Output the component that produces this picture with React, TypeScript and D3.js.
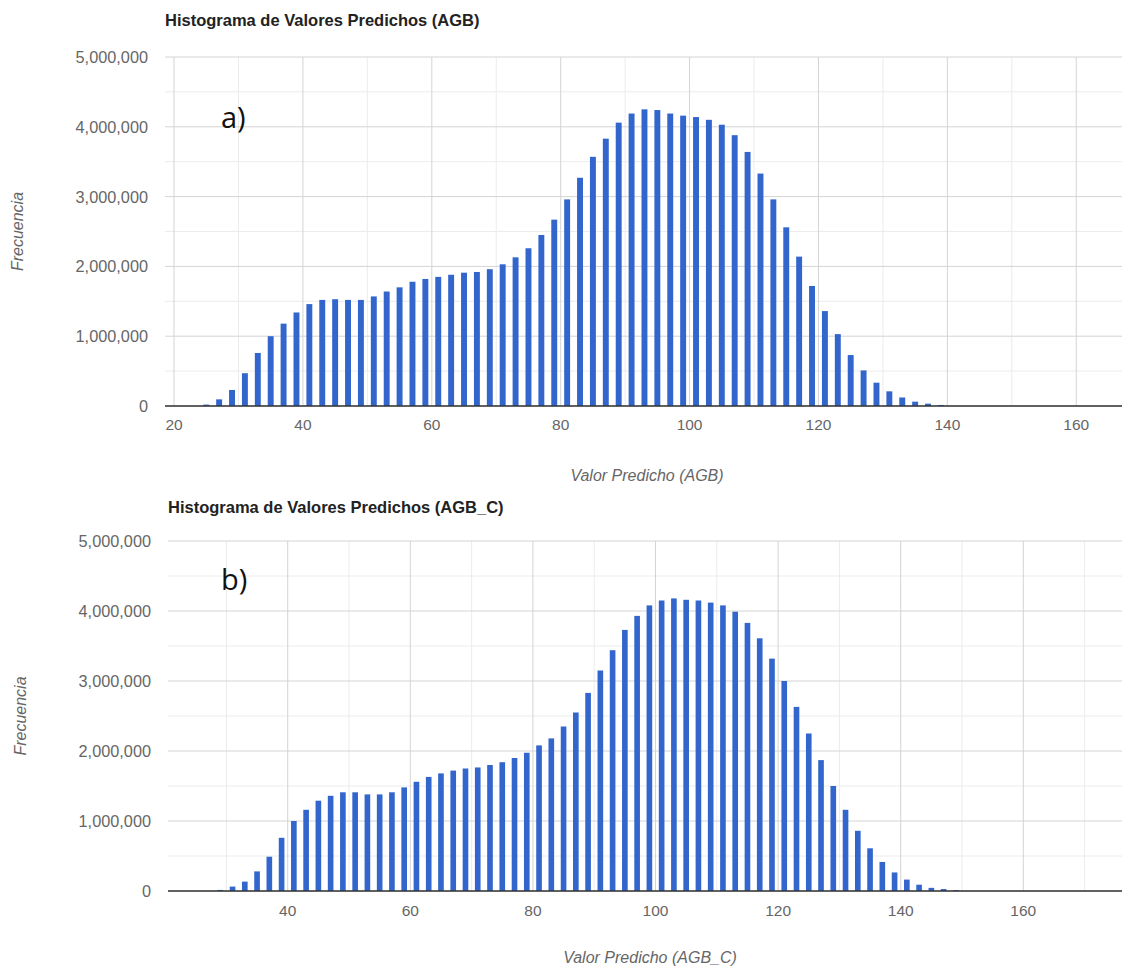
import React from "react";
import * as d3 from "d3";

// Bin centres (bins are 2 units wide) and pixel counts for each predicted-value histogram
const binsAGB = [
  25, 27, 29, 31, 33, 35, 37, 39, 41, 43, 45, 47, 49, 51, 53, 55, 57, 59, 61, 63,
  65, 67, 69, 71, 73, 75, 77, 79, 81, 83, 85, 87, 89, 91, 93, 95, 97, 99, 101, 103,
  105, 107, 109, 111, 113, 115, 117, 119, 121, 123, 125, 127, 129, 131, 133, 135, 137, 139,
];
const countsAGB = [
  20000, 95000, 230000, 470000, 760000, 1000000, 1180000, 1340000, 1460000, 1520000,
  1530000, 1520000, 1520000, 1570000, 1640000, 1700000, 1780000, 1820000, 1850000, 1880000,
  1910000, 1920000, 1960000, 2030000, 2130000, 2260000, 2450000, 2670000, 2960000, 3270000,
  3570000, 3830000, 4060000, 4190000, 4250000, 4240000, 4190000, 4160000, 4140000, 4100000,
  4030000, 3880000, 3640000, 3330000, 2960000, 2560000, 2140000, 1720000, 1360000, 1030000,
  730000, 510000, 334000, 210000, 122000, 62000, 33000, 15000,
];

const binsAGBC = [
  29, 31, 33, 35, 37, 39, 41, 43, 45, 47, 49, 51, 53, 55, 57, 59, 61, 63, 65, 67,
  69, 71, 73, 75, 77, 79, 81, 83, 85, 87, 89, 91, 93, 95, 97, 99, 101, 103, 105, 107,
  109, 111, 113, 115, 117, 119, 121, 123, 125, 127, 129, 131, 133, 135, 137, 139, 141, 143,
  145, 147, 149,
];
const countsAGBC = [
  15000, 63000, 134000, 280000, 490000, 760000, 1000000, 1160000, 1290000, 1360000,
  1410000, 1410000, 1380000, 1380000, 1410000, 1480000, 1560000, 1630000, 1680000, 1720000,
  1750000, 1765000, 1800000, 1840000, 1900000, 1975000, 2080000, 2180000, 2350000, 2550000,
  2830000, 3150000, 3440000, 3730000, 3930000, 4080000, 4150000, 4180000, 4160000, 4150000,
  4120000, 4080000, 3990000, 3830000, 3610000, 3320000, 3000000, 2630000, 2250000, 1870000,
  1500000, 1160000, 860000, 610000, 415000, 265000, 163000, 90000, 45000, 28000, 12000,
];

const yMajorTicks = [0, 1000000, 2000000, 3000000, 4000000, 5000000];
const yMinorTicks = [500000, 1500000, 2500000, 3500000, 4500000];

const xMajorTicksAGB = [20, 40, 60, 80, 100, 120, 140, 160];
const xMinorTicksAGB = [30, 50, 70, 90, 110, 130, 150];
const xMajorTicksAGBC = [40, 60, 80, 100, 120, 140, 160];
const xMinorTicksAGBC = [30, 50, 70, 90, 110, 130, 150, 170];

// each bar covers a little under half of its 2-unit bin
const BAR_WIDTH = 0.92;
const BAR_FILL = "#3366cc";
const FONT = "Arial, 'Liberation Sans', sans-serif";
const fmt = d3.format(",");

type PanelProps = {
  title: string;
  axisTitle: string;
  letter: string;
  bins: number[];
  counts: number[];
  xDomain: [number, number];
  xMajor: number[];
  xMinor: number[];
  left: number;
  right: number;
  top: number;
  bottom: number;
  titleY: number;
  tickLabelY: number;
  axisTitleY: number;
  axisTitleX: number;
  yTitleX: number;
  letterX: number;
  letterY: number;
};

function HistogramPanel(p: PanelProps) {
  const x = d3.scaleLinear().domain(p.xDomain).range([p.left, p.right]);
  const y = d3.scaleLinear().domain([0, 5000000]).range([p.bottom, p.top]);
  const halfBar = BAR_WIDTH / 2;
  const midY = (p.top + p.bottom) / 2;

  return (
    <g>
      <text x={p.left} y={p.titleY} fontFamily={FONT} fontSize={16.5} fontWeight="bold" fill="#222">
        {p.title}
      </text>

      {/* minor grid */}
      {yMinorTicks.map((t) => (
        <line key={"ym" + t} x1={p.left} x2={p.right} y1={y(t)} y2={y(t)} stroke="#ececec" strokeWidth={1} />
      ))}
      {p.xMinor.map((t) => (
        <line key={"xm" + t} x1={x(t)} x2={x(t)} y1={p.top} y2={p.bottom} stroke="#ececec" strokeWidth={1} />
      ))}
      {/* major grid */}
      {yMajorTicks.map((t) => (
        <line key={"yM" + t} x1={p.left} x2={p.right} y1={y(t)} y2={y(t)} stroke="#d4d4d4" strokeWidth={1} />
      ))}
      {p.xMajor.map((t) => (
        <line key={"xM" + t} x1={x(t)} x2={x(t)} y1={p.top} y2={p.bottom} stroke="#d4d4d4" strokeWidth={1} />
      ))}

      {/* bars */}
      {p.bins.map((c, i) => (
        <rect
          key={"b" + c}
          x={x(c - halfBar)}
          width={x(c + halfBar) - x(c - halfBar)}
          y={y(p.counts[i])}
          height={y(0) - y(p.counts[i])}
          fill={BAR_FILL}
        />
      ))}

      {/* baseline */}
      <line x1={p.left} x2={p.right} y1={y(0)} y2={y(0)} stroke="#333" strokeWidth={1.3} />

      {/* y tick labels */}
      {yMajorTicks.map((t) => (
        <text
          key={"yl" + t}
          x={p.left - 17}
          y={y(t)}
          textAnchor="end"
          dominantBaseline="central"
          fontFamily={FONT}
          fontSize={16.3}
          fill="#666"
        >
          {fmt(t)}
        </text>
      ))}
      {/* x tick labels */}
      {p.xMajor.map((t) => (
        <text
          key={"xl" + t}
          x={x(t)}
          y={p.tickLabelY}
          textAnchor="middle"
          dominantBaseline="central"
          fontFamily={FONT}
          fontSize={15.5}
          fill="#666"
        >
          {t}
        </text>
      ))}

      <text
        x={p.axisTitleX}
        y={p.axisTitleY}
        textAnchor="middle"
        dominantBaseline="central"
        fontFamily={FONT}
        fontSize={16}
        fontStyle="italic"
        fill="#666"
      >
        {p.axisTitle}
      </text>
      <text
        transform={`translate(${p.yTitleX},${midY}) rotate(-90)`}
        textAnchor="middle"
        dominantBaseline="central"
        fontFamily={FONT}
        fontSize={16}
        fontStyle="italic"
        fill="#666"
      >
        Frecuencia
      </text>

      <text x={p.letterX} y={p.letterY} fontFamily="'Open Sans', sans-serif" fontSize={29} fill="#111">
        {p.letter}
      </text>
    </g>
  );
}

export default function App() {
  return (
    <div style={{ position: "absolute", left: 0, top: 0, background: "#fff" }}>
      <svg width={1122} height={967} style={{ display: "block" }}>
        <rect width={1122} height={967} fill="#fff" />
        <HistogramPanel
          title="Histograma de Valores Predichos (AGB)"
          axisTitle="Valor Predicho (AGB)"
          letter="a)"
          bins={binsAGB}
          counts={countsAGB}
          xDomain={[18.6, 167.1]}
          xMajor={xMajorTicksAGB}
          xMinor={xMinorTicksAGB}
          left={165}
          right={1122}
          top={57}
          bottom={406}
          titleY={26}
          tickLabelY={424}
          axisTitleY={475}
          axisTitleX={647}
          yTitleX={17}
          letterX={221}
          letterY={128}
        />
        <HistogramPanel
          title="Histograma de Valores Predichos (AGB_C)"
          axisTitle="Valor Predicho (AGB_C)"
          letter="b)"
          bins={binsAGBC}
          counts={countsAGBC}
          xDomain={[20.47, 176.1]}
          xMajor={xMajorTicksAGBC}
          xMinor={xMinorTicksAGBC}
          left={168}
          right={1122}
          top={541}
          bottom={891}
          titleY={513}
          tickLabelY={910}
          axisTitleY={957}
          axisTitleX={650}
          yTitleX={20}
          letterX={221}
          letterY={590}
        />
      </svg>
    </div>
  );
}
